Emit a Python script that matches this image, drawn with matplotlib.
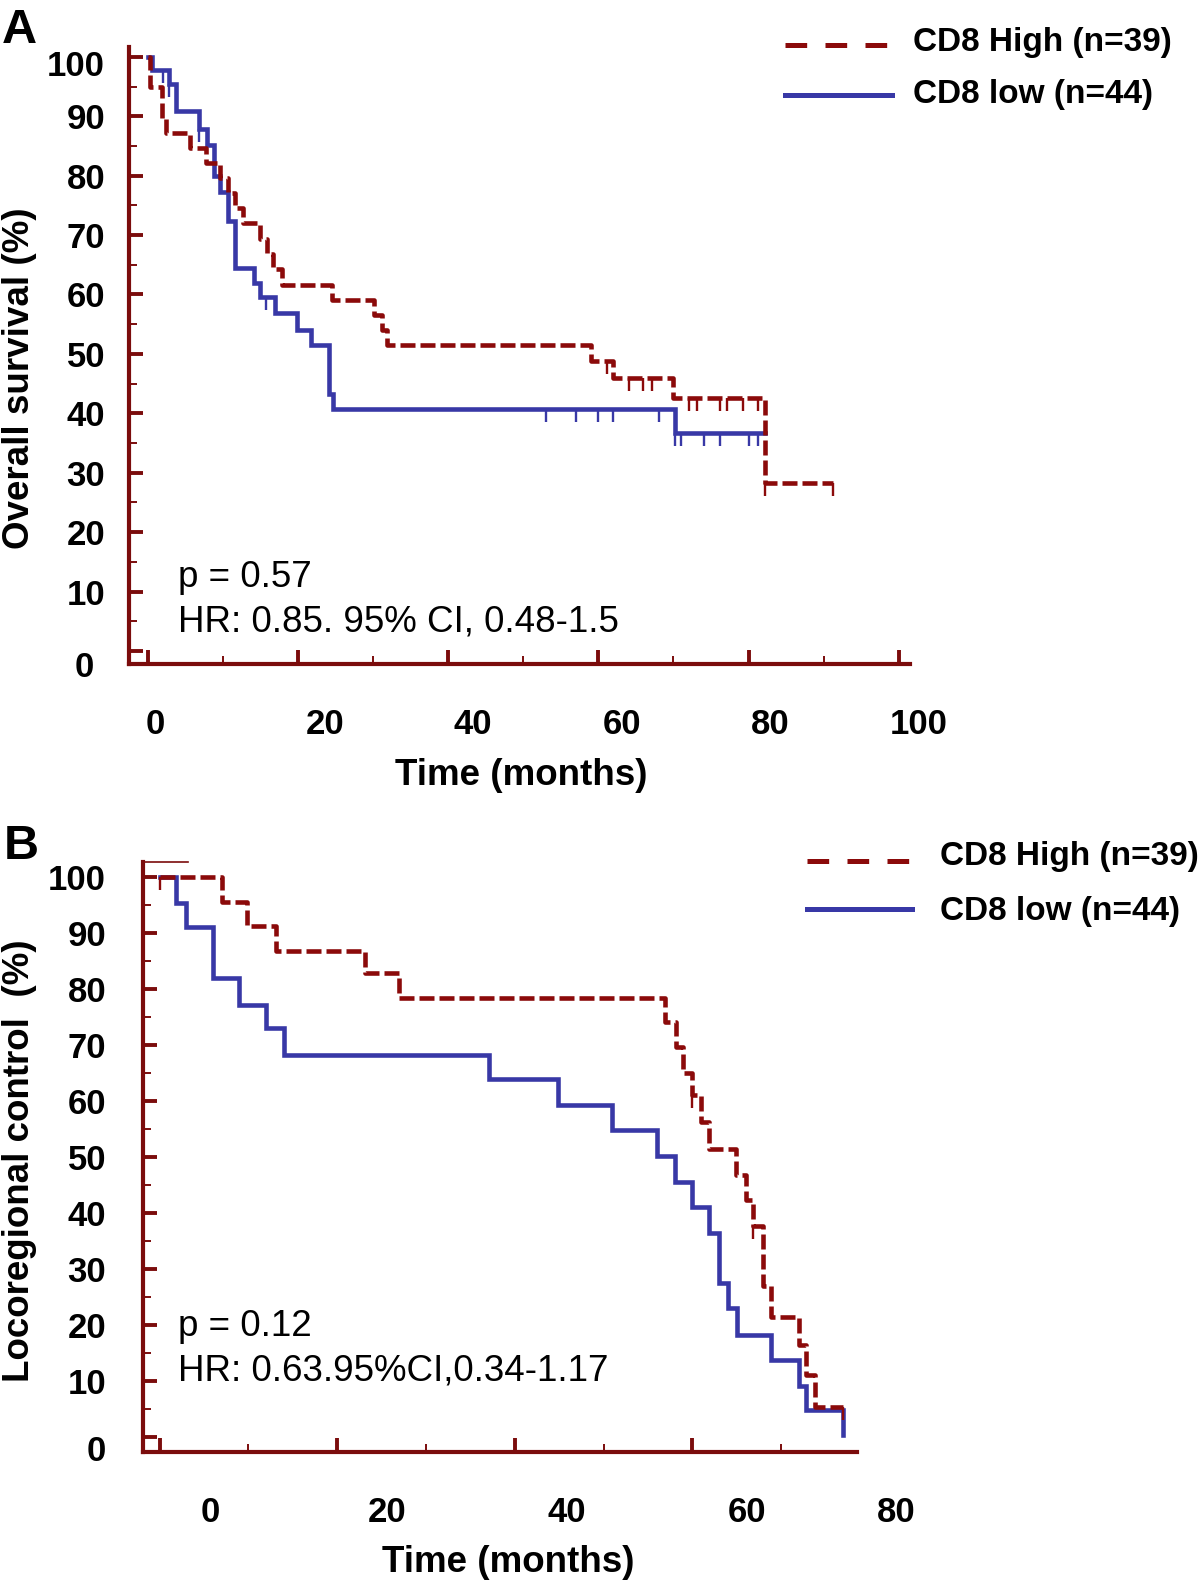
import numpy as np
import matplotlib
matplotlib.use("Agg")
import matplotlib.pyplot as plt
from matplotlib.lines import Line2D

plt.rcParams['font.family'] = ['Liberation Sans', 'DejaVu Sans']
plt.rcParams['lines.scale_dashes'] = False

W, H = 1200, 1585
AX = '#7b0c0c'
RED = '#8b0a0a'
BLUE = '#3838a6'

# Panel A: overall survival (months, %)
a_high_t = [0, 0.3, 1.9, 2.5, 5.6, 7.8, 9.6, 10.7, 11.6, 12.7, 14.9, 15.9, 16.7, 17.9,
            24.6, 30.1, 31.2, 31.9, 59.0, 62.0, 70.0, 82.2, 91.2]
a_high_s = [100, 95.0, 89.7, 87.2, 84.6, 82.1, 79.6, 77.1, 74.5, 72.0, 69.3, 66.8, 64.3, 61.6,
            59.1, 56.6, 54.0, 51.5, 48.8, 45.9, 42.5, 28.3, 28.3]
a_high_cens = [61.1, 64.1, 66.0, 67.1, 72.1, 73.1, 76.2, 77.1, 79.2, 81.3, 82.2, 91.2]
a_low_t = [0, 0.55, 2.9, 3.8, 6.8, 7.9, 8.9, 9.6, 10.7, 11.6, 14.1, 14.9, 16.9, 19.9,
           21.8, 24.1, 24.7, 70.2, 82.2]
a_low_s = [100, 97.7, 95.5, 90.9, 87.8, 85.2, 80.0, 77.2, 72.3, 64.5, 61.9, 59.5, 56.8, 54.0,
           51.5, 43.3, 40.7, 36.6, 36.6]
a_low_cens = [2.1, 2.9, 6.9, 15.7, 53.1, 57.0, 60.0, 62.0, 68.1, 70.2, 71.0, 74.1, 76.2, 80.1, 81.3]

# Panel B: locoregional control (months, %)
b_high_t = [0, 7.0, 9.9, 13.1, 23.1, 27.0, 56.9, 58.1, 58.9, 59.9, 61.0, 61.9, 64.9, 66.0,
            66.8, 67.9, 68.9, 72.0, 72.8, 73.8, 77.0]
b_high_s = [100, 95.5, 91.3, 86.7, 82.8, 78.3, 74.1, 69.7, 64.9, 61.1, 56.3, 51.5, 46.8, 42.3,
            37.6, 26.9, 21.5, 16.4, 11.1, 5.3, 5.3]
b_high_cens = [0.05, 59.9, 66.8, 77.0]
b_low_t = [0, 1.9, 3.0, 6.0, 9.0, 12.0, 14.0, 37.1, 44.9, 51.0, 56.0, 58.0, 59.9, 61.9,
           63.0, 64.0, 65.0, 68.8, 72.0, 72.8, 77.0]
b_low_s = [100, 95.3, 91.1, 81.9, 77.2, 73.0, 68.2, 63.9, 59.3, 54.8, 50.2, 45.5, 41.1, 36.4,
           27.5, 23.0, 18.2, 13.8, 9.1, 4.9, 0.4]
b_low_cens = []

legend_labels = ["CD8 High (n=39)", "CD8 low (n=44)"]
y_tick_labels = ["0", "10", "20", "30", "40", "50", "60", "70", "80", "90", "100"]
a_x_tick_labels = ["0", "20", "40", "60", "80", "100"]
b_x_tick_labels = ["0", "20", "40", "60", "80"]


def fxy(x, y):
    return x / W, 1 - y / H


def cens_y(t, s, c):
    t = np.asarray(t)
    s = np.asarray(s)
    return s[np.searchsorted(t, c, side='right') - 1]


def style_axes(ax, xmaj, xmin, ymaj, ymin):
    for side in ['top', 'right']:
        ax.spines[side].set_visible(False)
    for side in ['left', 'bottom']:
        ax.spines[side].set_color(AX)
        ax.spines[side].set_linewidth(3.0)
    ax.set_xticks(xmaj)
    ax.set_xticks(xmin, minor=True)
    ax.set_yticks(ymaj)
    ax.set_yticks(ymin, minor=True)
    ax.tick_params(which='major', direction='in', length=10, width=2.8, color=AX,
                   labelbottom=False, labelleft=False)
    ax.tick_params(which='minor', direction='in', length=6, width=1.4, color=AX)


def draw_curves(ax, ht, hs, hc, lt, ls, lc):
    ax.step(lt, ls, where='post', color=BLUE, lw=3.3, solid_joinstyle='miter')
    if lc:
        ax.plot(lc, cens_y(lt, ls, lc), ls='none', marker=3, ms=9.5, mew=1.7, color=BLUE)
    ax.step(ht, hs, where='post', color=RED, lw=3.3, dashes=(10.8, 3.6))
    if hc:
        ax.plot(hc, cens_y(ht, hs, hc), ls='none', marker=3, ms=9.5, mew=1.7, color=RED)


fig = plt.figure(figsize=(W / 100, H / 100), dpi=100)

# ---------- Panel A ----------
axA = fig.add_axes([129.3 / W, 1 - 664 / H, (910 - 129.3) / W, (664 - 46.7) / H])
axA.set_xlim(-2.44, 101.5)
axA.set_ylim(-2.2, 101.7)
style_axes(axA, range(0, 101, 20), range(10, 100, 20), range(0, 101, 10), range(5, 100, 10))
draw_curves(axA, a_high_t, a_high_s, a_high_cens, a_low_t, a_low_s, a_low_cens)

a_xlab_pos = [1.0, 23.6, 43.3, 63.2, 82.9, 102.6]
for xp, lab in zip(a_xlab_pos, a_x_tick_labels):
    axA.text(xp, -11.8, lab, ha='center', va='center_baseline', fontsize=25,
             fontweight='bold', clip_on=False)
a_ylab_pos = [-2.2, 10, 20, 30, 40, 50, 60, 70, 80, 90, 99]
for i, (yp, lab) in enumerate(zip(a_ylab_pos, y_tick_labels)):
    axA.text(-7.1 if i == 0 else -5.67, yp, lab, ha='right', va='center_baseline',
             fontsize=25, fontweight='bold', clip_on=False)

fig.text(*fxy(20, 378), "Overall survival (%)", rotation=90, ha='center', va='center',
         fontsize=26.5, fontweight='bold')
fig.text(*fxy(521, 775), "Time (months)", ha='center', va='center', fontsize=26.5,
         fontweight='bold')
fig.text(*fxy(178, 574), "p = 0.57", ha='left', va='center_baseline', fontsize=26.5)
fig.text(*fxy(178, 618), "HR: 0.85. 95% CI, 0.48-1.5", ha='left', va='center_baseline',
         fontsize=26.5)
fig.text(*fxy(2, 43), "A", ha='left', va='baseline', fontsize=35, fontweight='bold')

# legend A
fig.add_artist(Line2D([785 / W, 888 / W], [1 - 45 / H] * 2, color=RED, lw=3.6,
                      dashes=(15.6, 13.2)))
fig.add_artist(Line2D([785 / W, 892 / W], [1 - 95 / H] * 2, color=BLUE, lw=3.6))
fig.text(*fxy(913, 43), legend_labels[0], ha='left', va='center', fontsize=24, fontweight='bold')
fig.text(*fxy(913, 95), legend_labels[1], ha='left', va='center', fontsize=24, fontweight='bold')

# ---------- Panel B ----------
axB = fig.add_axes([143.3 / W, 1 - 1451.7 / H, (856.7 - 143.3) / W, (1451.7 - 861.7) / H])
axB.set_xlim(-1.83, 78.5)
axB.set_ylim(-2.6, 102.7)
style_axes(axB, range(0, 61, 20), range(10, 71, 20), range(0, 101, 10), range(5, 100, 10))
draw_curves(axB, b_high_t, b_high_s, b_high_cens, b_low_t, b_low_s, b_low_cens)
axB.plot([0, 0.063], [1, 1], transform=axB.transAxes, color=AX, lw=1.2, clip_on=False)

b_xlab_pos = [5.7, 25.6, 45.9, 66.2, 83.0]
for xp, lab in zip(b_xlab_pos, b_x_tick_labels):
    axB.text(xp, -12.8, lab, ha='center', va='center_baseline', fontsize=25,
             fontweight='bold', clip_on=False)
b_ylab_pos = [-1.9, 10, 20, 30, 40, 50, 60, 70, 80, 90, 99.9]
for yp, lab in zip(b_ylab_pos, y_tick_labels):
    axB.text(-6.03, yp, lab, ha='right', va='center_baseline', fontsize=25,
             fontweight='bold', clip_on=False)

fig.text(*fxy(20, 1161), "Locoregional control  (%)", rotation=90, ha='center', va='center',
         fontsize=26.5, fontweight='bold')
fig.text(*fxy(508, 1563), "Time (months)", ha='center', va='center', fontsize=26.5,
         fontweight='bold')
fig.text(*fxy(178, 1322), "p = 0.12", ha='left', va='center_baseline', fontsize=26.5)
fig.text(*fxy(178, 1367), "HR: 0.63.95%CI,0.34-1.17", ha='left', va='center_baseline',
         fontsize=26.5)
fig.text(*fxy(4, 859), "B", ha='left', va='baseline', fontsize=35, fontweight='bold')

# legend B
fig.add_artist(Line2D([807 / W, 910 / W], [1 - 861 / H] * 2, color=RED, lw=3.6,
                      dashes=(15.6, 13.2)))
fig.add_artist(Line2D([807 / W, 912 / W], [1 - 909 / H] * 2, color=BLUE, lw=3.6))
fig.text(*fxy(940, 857), legend_labels[0], ha='left', va='center', fontsize=24, fontweight='bold')
fig.text(*fxy(940, 912), legend_labels[1], ha='left', va='center', fontsize=24, fontweight='bold')

fig.savefig("out.png", dpi=100, facecolor='white')
